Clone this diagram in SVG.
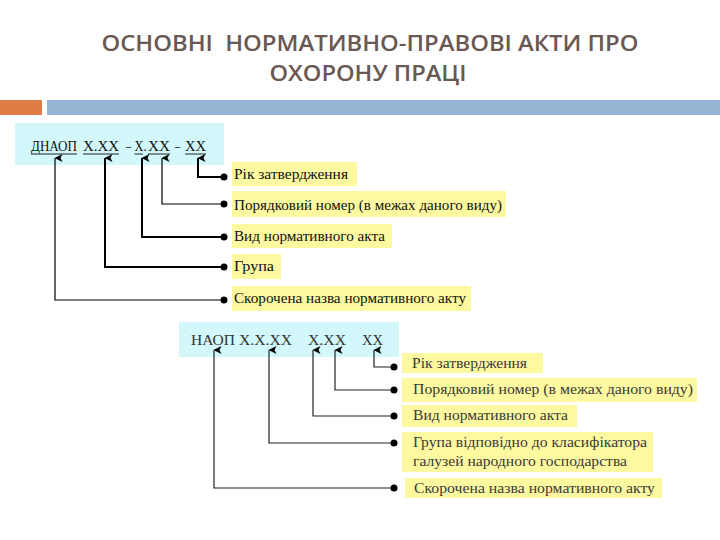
<svg xmlns="http://www.w3.org/2000/svg" width="720" height="540" viewBox="0 0 720 540">
<defs>
<style>
.title{font-family:"Open Sans",Lato,"Liberation Sans",sans-serif;font-size:22px;font-weight:600;fill:#6a5853;text-anchor:middle}
.code{font-family:'Liberation Serif','DejaVu Serif',serif;font-size:15px;fill:#111}
.code2{font-family:'Liberation Serif','DejaVu Serif',serif;font-size:15px;fill:#333}
.lbl{font-family:'Liberation Serif','DejaVu Serif',serif;font-size:15.5px;fill:#111}
.lbl2{font-family:'Liberation Serif','DejaVu Serif',serif;font-size:15.5px;fill:#3a3a3a}
.y{fill:#fcf9a0}
.c{fill:#d2f8fb}
.ln{fill:none;stroke:#000;stroke-width:1.2}
.lnb{fill:none;stroke:#000;stroke-width:2}
.ln2{fill:none;stroke:#222;stroke-width:1.2}
.ul{stroke:#222;stroke-width:1}
</style>
<marker id="ah" markerWidth="8" markerHeight="8" refX="4" refY="0.5" orient="auto-start-reverse" markerUnits="userSpaceOnUse" viewBox="0 0 8 8">
<path d="M0,8 L4,0 L8,8 L4,6 Z" fill="#000"/>
</marker>
</defs>
<rect width="720" height="540" fill="#fff"/>
<g id="title">
<text class="title" x="370" y="51" xml:space="preserve" style="white-space:pre" textLength="537" lengthAdjust="spacingAndGlyphs">ОСНОВНІ  НОРМАТИВНО-ПРАВОВІ АКТИ ПРО</text>
<text class="title" x="368" y="81" textLength="197" lengthAdjust="spacingAndGlyphs">ОХОРОНУ ПРАЦІ</text>
</g>
<g id="bars">
<rect x="0" y="100" width="42" height="15" fill="#e07c45"/>
<rect x="47" y="100" width="673" height="15" fill="#94b6d4"/>
</g>
<g id="code1" font-family="Liberation Serif, DejaVu Serif, serif">
<rect class="c" x="15" y="123" width="209" height="42"/>
<text class="code" y="151"><tspan x="31" textLength="46" lengthAdjust="spacingAndGlyphs">ДНАОП</tspan><tspan x="83" textLength="36" lengthAdjust="spacingAndGlyphs">Х.ХХ</tspan><tspan x="126" textLength="5" lengthAdjust="spacingAndGlyphs">–</tspan><tspan x="134.5" textLength="12" lengthAdjust="spacingAndGlyphs">Х.</tspan><tspan x="148" textLength="22" lengthAdjust="spacingAndGlyphs">ХХ</tspan><tspan x="175" textLength="5" lengthAdjust="spacingAndGlyphs">–</tspan><tspan x="185" textLength="21" lengthAdjust="spacingAndGlyphs">ХХ</tspan></text>
<line class="ul" x1="31" y1="154" x2="77" y2="154"/>
<line class="ul" x1="83" y1="154" x2="119" y2="154"/>
<line class="ul" x1="134.5" y1="154" x2="143" y2="154"/>
<line class="ul" x1="148" y1="154" x2="170" y2="154"/>
<line class="ul" x1="185" y1="154" x2="206" y2="154"/>
</g>
<g id="labels1" font-family="Liberation Serif, DejaVu Serif, serif">
<g id="l1-rik"><rect class="y" x="232" y="162" width="125" height="24"/><text class="lbl" x="234" y="179" textLength="114" lengthAdjust="spacingAndGlyphs">Рік затвердження</text></g>
<g id="l1-por"><rect class="y" x="232" y="191" width="274" height="26"/><text class="lbl" x="234" y="210" textLength="268" lengthAdjust="spacingAndGlyphs">Порядковий номер (в межах даного виду)</text></g>
<g id="l1-vyd"><rect class="y" x="232" y="224" width="160" height="24"/><text class="lbl" x="234" y="241" textLength="151" lengthAdjust="spacingAndGlyphs">Вид нормативного акта</text></g>
<g id="l1-hrupa"><rect class="y" x="232" y="254" width="49" height="25"/><text class="lbl" x="234" y="271" textLength="40" lengthAdjust="spacingAndGlyphs">Група</text></g>
<g id="l1-skor"><rect class="y" x="232" y="286" width="239" height="25"/><text class="lbl" x="234" y="303" textLength="232" lengthAdjust="spacingAndGlyphs">Скорочена назва нормативного акту</text></g>
</g>
<g id="code2" font-family="Liberation Serif, DejaVu Serif, serif">
<rect class="c" x="179" y="322" width="220" height="35"/>
<text class="code2" y="345"><tspan x="191" textLength="44" lengthAdjust="spacingAndGlyphs">НАОП</tspan><tspan x="239" textLength="53" lengthAdjust="spacingAndGlyphs">Х.Х.ХХ</tspan><tspan x="308" textLength="38" lengthAdjust="spacingAndGlyphs">Х.ХХ</tspan><tspan x="362" textLength="21" lengthAdjust="spacingAndGlyphs">ХХ</tspan></text>
</g>
<g id="labels2" font-family="Liberation Serif, DejaVu Serif, serif">
<g id="l2-rik"><rect class="y" x="402" y="353" width="141" height="20"/><text class="lbl2" x="412" y="368" textLength="115" lengthAdjust="spacingAndGlyphs">Рік затвердження</text></g>
<g id="l2-por"><rect class="y" x="402" y="378" width="295" height="24"/><text class="lbl2" x="413" y="394" textLength="280" lengthAdjust="spacingAndGlyphs">Порядковий номер (в межах даного виду)</text></g>
<g id="l2-vyd"><rect class="y" x="402" y="405" width="175" height="22"/><text class="lbl2" x="413" y="420" textLength="155" lengthAdjust="spacingAndGlyphs">Вид нормативного акта</text></g>
<g id="l2-hrupa"><rect class="y" x="402" y="432" width="251" height="40"/><text class="lbl2" x="413" y="447" textLength="234" lengthAdjust="spacingAndGlyphs">Група відповідно до класифікатора</text><text class="lbl2" x="413" y="466" textLength="214" lengthAdjust="spacingAndGlyphs">галузей народного господарства</text></g>
<g id="l2-skor"><rect class="y" x="405" y="478" width="257" height="20"/><text class="lbl2" x="414" y="493" textLength="241" lengthAdjust="spacingAndGlyphs">Скорочена назва нормативного акту</text></g>
</g>
<g id="connectors">
<path class="ln" d="M224,300 H55 V158" marker-end="url(#ah)"/>
<path class="lnb" d="M224,267 H105 V158" marker-end="url(#ah)"/>
<path class="lnb" d="M224,237 H142 V158" marker-end="url(#ah)"/>
<path class="ln" d="M224,204 H162 V158" marker-end="url(#ah)"/>
<path class="lnb" d="M224,177 H198 V158" marker-end="url(#ah)"/>
<circle cx="224" cy="177" r="3.5"/>
<circle cx="224" cy="204" r="3.5"/>
<circle cx="224" cy="237" r="3.5"/>
<circle cx="224" cy="267" r="3.5"/>
<circle cx="224" cy="300" r="3.5"/>
<path class="ln2" d="M394,488 H214 V350" marker-end="url(#ah)"/>
<path class="ln2" d="M394,443 H269 V350" marker-end="url(#ah)"/>
<path class="ln2" d="M394,416 H313 V350" marker-end="url(#ah)"/>
<path class="ln2" d="M394,390 H335 V350" marker-end="url(#ah)"/>
<path class="ln2" d="M394,367 H374 V350" marker-end="url(#ah)"/>
<circle cx="394" cy="367" r="3.5"/>
<circle cx="394" cy="390" r="3.5"/>
<circle cx="394" cy="416" r="3.5"/>
<circle cx="394" cy="443" r="3.5"/>
<circle cx="394" cy="488" r="3.5"/>
</g>
</svg>
